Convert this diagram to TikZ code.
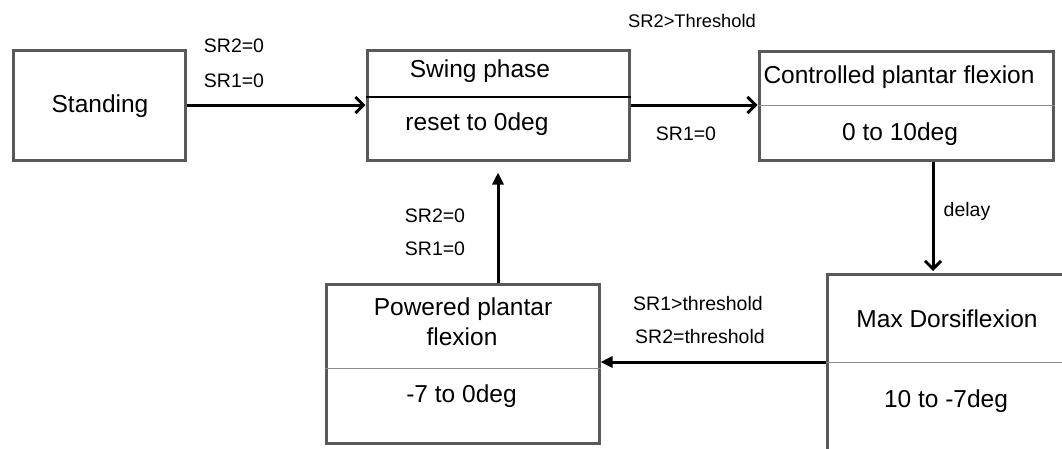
\documentclass[tikz,border=0pt]{standalone}
\usepackage{fontspec}
\setmainfont{Liberation Sans}
\usetikzlibrary{arrows.meta}
\definecolor{boxgray}{HTML}{595959}
\definecolor{divgray}{HTML}{8C8C8C}
\begin{document}
\begin{tikzpicture}[x=1pt,y=-1pt,
  box/.style={draw=boxgray, line width=3pt, inner sep=0pt, fill=white},
  big/.style={font=\fontsize{24.5}{29}\selectfont, anchor=base, inner sep=0pt},
  lab/.style={font=\fontsize{19.5}{23}\selectfont, anchor=base, inner sep=0pt},
  barb/.style={line width=3pt, -{Straight Barb[length=8pt,width=16pt]}},
  tri/.style={line width=3pt, -{Triangle[length=12pt,width=11pt]}},
  thindiv/.style={draw=divgray, line width=1pt},
  thickdiv/.style={draw=black, line width=2.5pt}]
\useasboundingbox (0,0) rectangle (1062,448);
\fill[white] (0,0) rectangle (1062,448);

% boxes
\node[box, minimum width=172pt, minimum height=110pt] (st) at (99,105) {};
\node[box, minimum width=262pt, minimum height=110pt] (sw) at (498,105) {};
\node[box, minimum width=294pt, minimum height=109pt] (ctrl) at (906,105.5) {};
\node[box, minimum width=273pt, minimum height=159pt] (pp) at (462.5,363.5) {};
\begin{scope}
  \clip (0,0) rectangle (1062,448);
  \node[box, minimum width=260pt, minimum height=200pt, anchor=north west] (md) at (826,273) {};
  \coordinate (mddiv) at (900,362);
  \draw[thindiv] (mddiv -| md.west) -- (mddiv -| md.east);
\end{scope}

% dividers
\coordinate (swdiv) at (498,97);
\draw[thickdiv] (swdiv -| sw.west) -- (swdiv -| sw.east);
\coordinate (ctrldiv) at (906,105);
\draw[thindiv] (ctrldiv -| ctrl.west) -- (ctrldiv -| ctrl.east);
\coordinate (ppdiv) at (462,368);
\draw[thindiv] (ppdiv -| pp.west) -- (ppdiv -| pp.east);

% box texts
\node[big] (tst) at (100,112) {Standing};
\node[big] (tsw1) at (480,77.5) {Swing phase};
\node[big] (tsw2) at (477,130) {reset to 0deg};
\node[big] (tc1) at (899,83) {Controlled plantar flexion};
\node[big] (tc2) at (900,140) {0 to 10deg};
\node[big] (tm1) at (947,327) {Max Dorsiflexion};
\node[big] (tm2) at (946,407) {10 to -7deg};
\node[big] (tp1) at (463,315) {Powered plantar};
\node[big] (tp2) at (462,345) {flexion};
\node[big] (tp3) at (461.5,402) {-7 to 0deg};

% connectors
\draw[barb] (st.east) -- (st.east -| sw.west);
\draw[barb] (sw.east) -- (sw.east -| ctrl.west);
\coordinate (mdtop) at (933,271);
\draw[barb] (ctrl.south -| mdtop) -- (mdtop);
\coordinate (mdmid) at (826,362);
\draw[tri] (mdmid) -- (mdmid -| pp.east);
\draw[tri, shorten >=11pt] (sw.south |- pp.north) -- (sw.south);

% labels
\node[lab] (a1) at (234,52) {SR2=0};
\node[lab] (a2) at (234,87) {SR1=0};
\node[lab, font=\fontsize{18.3}{22}\selectfont] (b1) at (692,27) {SR2>Threshold};
\node[lab] (b2) at (686,140) {SR1=0};
\node[lab] (c1) at (967,216) {delay};
\node[lab] (d1) at (698,310) {SR1>threshold};
\node[lab] (d2) at (700,343) {SR2=threshold};
\node[lab] (e1) at (435,222) {SR2=0};
\node[lab] (e2) at (435,255) {SR1=0};
\end{tikzpicture}
\end{document}
